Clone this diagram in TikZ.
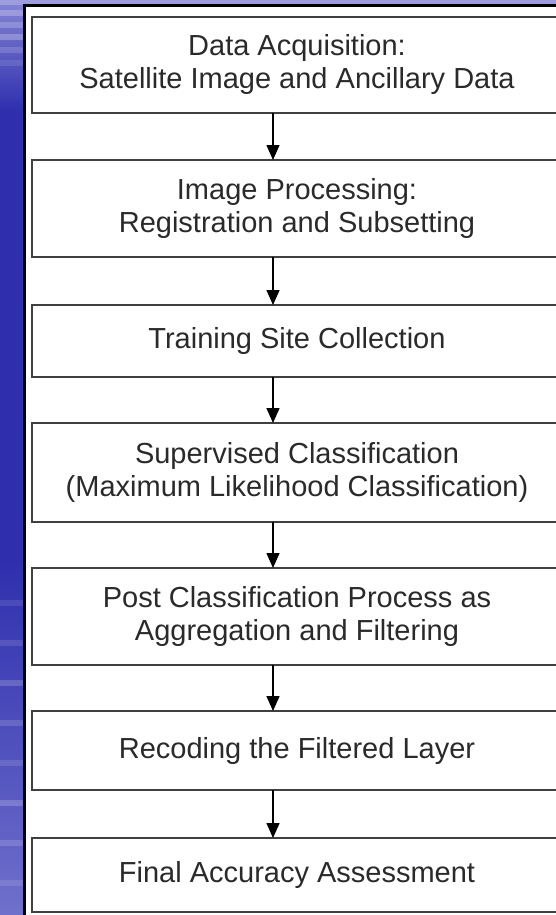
\documentclass[tikz,border=0pt]{standalone}
\usepackage{fontspec}
\setmainfont{Liberation Sans}
\usepackage{xcolor}
\usepackage{tikz}
\usetikzlibrary{arrows.meta, calc, positioning}

\definecolor{slideblue}{HTML}{2F2FAE}
\definecolor{slidelight}{HTML}{8585D6}
\definecolor{boxgray}{HTML}{404040}
\definecolor{textgray}{HTML}{2A2A2A}

\begin{document}
\begin{tikzpicture}[x=1pt, y=-1pt, >={Triangle[length=15pt, width=13pt]},
  stepbox/.style={draw=boxgray, line width=2pt, fill=white, minimum width=530pt,
    inner sep=0pt, outer sep=0pt, align=center, text=textgray,
    font=\fontsize{29}{33}\selectfont},
  flow/.style={->, line width=1.5pt, black}]

% === Drawing region ===
\useasboundingbox (0,0) rectangle (556,915);

% === Slide background ===
\fill[slideblue] (0,0) rectangle (556,915);
\shade[top color=slidelight, bottom color=slideblue] (0,0) rectangle (25,110);
\shade[top color=slideblue, bottom color=slidelight!75!slideblue] (0,560) rectangle (25,915);
\fill[slidelight!80!white] (0,0) rectangle (556,5);
\foreach \yy/\op in {10/0.25, 22/0.2, 34/0.25, 47/0.15, 60/0.1, 600/0.1, 640/0.12, 680/0.18, 720/0.15, 760/0.12, 800/0.2, 840/0.15, 880/0.12}
  \fill[white, opacity=\op] (0,\yy) rectangle (23,\yy+6);

% === White panel ===
\fill[white] (24,6) rectangle (600,950);
\draw[line width=3pt, black] (24.5,950) -- (24.5,6) -- (600,6);

% === Steps ===
\node[stepbox, minimum height=96pt] (acq) at (297,65) {Data Acquisition:\\Satellite Image and Ancillary Data};
\node[stepbox, minimum height=97pt, below=47pt of acq] (proc) {Image Processing:\\Registration and Subsetting};
\node[stepbox, minimum height=72pt, below=48pt of proc] (train) {Training Site Collection};
\node[stepbox, minimum height=99pt, below=46pt of train] (class) {Supervised Classification\\(Maximum Likelihood Classification)};
\node[stepbox, minimum height=97pt, below=46pt of class] (post) {Post Classification Process as\\Aggregation and Filtering};
\node[stepbox, minimum height=79pt, below=46pt of post] (recode) {Recoding the Filtered Layer};
\node[stepbox, minimum height=74pt, below=48pt of recode] (final) {Final Accuracy Assessment};

% === Arrows ===
\coordinate (ax) at (273,0);
\draw[flow] (acq.south -| ax) -- (proc.north -| ax);
\draw[flow] (proc.south -| ax) -- (train.north -| ax);
\draw[flow] (train.south -| ax) -- (class.north -| ax);
\draw[flow] (class.south -| ax) -- (post.north -| ax);
\draw[flow] (post.south -| ax) -- (recode.north -| ax);
\draw[flow] (recode.south -| ax) -- (final.north -| ax);

\end{tikzpicture}
\end{document}
